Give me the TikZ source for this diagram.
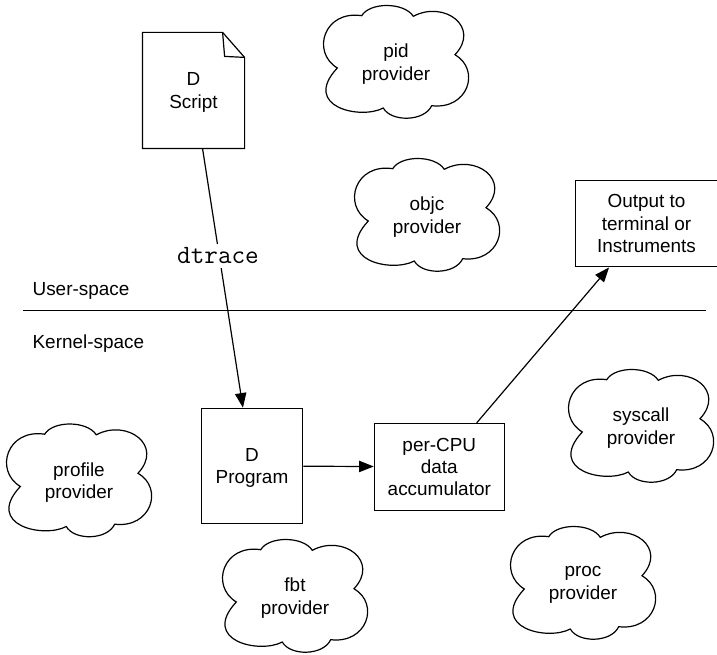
\documentclass[tikz,border=0pt]{standalone}
\usepackage{fontspec}
\setmainfont{Liberation Sans}
\usetikzlibrary{arrows.meta,calc}

\begin{document}
\begin{tikzpicture}[
    x=0.75pt, y=-0.75pt,
    line width=0.9pt,
    label/.style={font=\fontsize{14.2}{16.7}\selectfont, align=center, execute at begin node={\rule{0pt}{14.5pt}}},
    twolines/.style={label, yshift=-1.5pt},
    box/.style={rectangle, draw, label, inner sep=0pt},
    progbox/.style={box, minimum width=76pt, minimum height=86.5pt},
    accumbox/.style={box, minimum width=97.5pt, minimum height=65pt},
    outputbox/.style={box, minimum width=106pt, minimum height=65pt},
    arrow/.style={-{Triangle[length=11pt,width=8.5pt]}},
    cloudline/.pic={
        \draw (-34.3,-46.3) .. controls (-26,-60) and (8,-60) .. (17.3,-45.7)
            .. controls (48,-62) and (85,-35) .. (59,-7.3)
            .. controls (85,8) and (72,48) .. (35.7,43.7)
            .. controls (28,60) and (-5,60) .. (-12.7,46)
            .. controls (-35,58) and (-95,45) .. (-58.7,6)
            .. controls (-85,-10) and (-72,-52) .. (-34.3,-46.3) -- cycle;
    }
]
\useasboundingbox (0,0) rectangle (717,655);

% Clouds
\pic at (396,62) {cloudline};
\node[twolines] (pid) at (396,62) {pid\\provider};
\pic at (427,215) {cloudline};
\node[twolines] (objc) at (427,215) {objc\\provider};
\pic at (641,426) {cloudline};
\node[twolines] (syscall) at (641,426) {syscall\\provider};
\pic at (79,480.5) {cloudline};
\node[twolines] (profile) at (79,480.5) {profile\\provider};
\pic at (295,596) {cloudline};
\node[twolines] (fbt) at (295,596) {fbt\\provider};
\pic at (583,583) {cloudline};
\node[twolines] (proc) at (583,583) {proc\\provider};

% Boxes
\node[minimum width=75.75pt, minimum height=86.25pt, inner sep=0pt] (script) at (193.5,90.5) {};
\draw (script.north west) -- ($(script.north east)+(-22,0)$) -- ($(script.north east)+(0,25)$)
    -- (script.south east) -- (script.south west) -- cycle;
\draw ($(script.north east)+(-22,0)$) -- ($(script.north east)+(-20,24)$) -- ($(script.north east)+(0,25)$);
\node[twolines] (scripttext) at (script) {D\\Script};
\node[progbox] (program) at (252,466) {};
\node[twolines] (programtext) at (program) {D\\Program};
\node[accumbox] (accum) at (439.3,466.8) {per-CPU\\data\\accumulator};
\node[outputbox] (output) at (646.5,223.5) {Output to\\terminal or\\Instruments};

% Labels
\node[label, anchor=west, inner sep=0pt] (user) at (32,288) {User-space};
\node[label, anchor=west, inner sep=0pt] (kernel) at (32,341) {Kernel-space};
\coordinate (lineleft) at (23,310.5);
\coordinate (lineright) at (706,310.5);

% Arrows
\draw[line width=0.8pt] (lineleft) -- (lineright);
\draw[arrow] (script) -- (program);
\draw[arrow] (program) -- (accum);
\draw[arrow] (accum) -- (output);
\node[fill=white, inner xsep=2pt, inner ysep=3pt, font=\fontsize{19.8}{20}\ttfamily] (dtrace) at (218,256) {dtrace};

\end{tikzpicture}
\end{document}
